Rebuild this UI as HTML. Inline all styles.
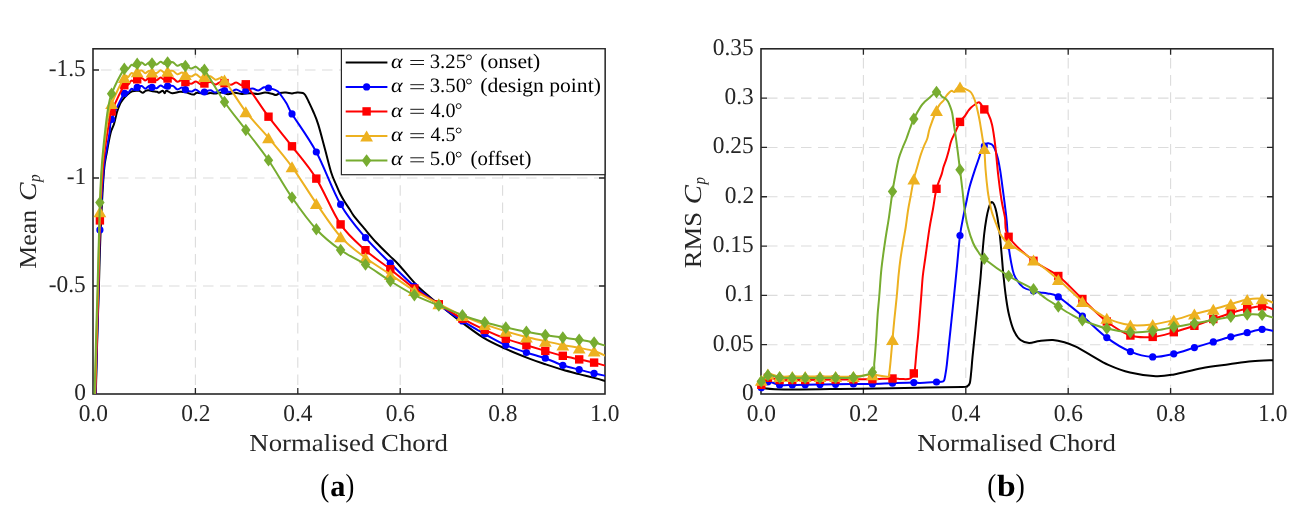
<!DOCTYPE html>
<html><head><meta charset="utf-8"><title>Cp plots</title>
<style>
html,body{margin:0;padding:0;background:#fff;}
body{width:1309px;height:524px;overflow:hidden;position:relative;}
svg{display:block;font-family:"Liberation Serif",serif;position:absolute;left:0;top:0;text-rendering:geometricPrecision;}
svg.main{will-change:transform;}
</style></head><body>
<svg class="main" width="1309" height="524" viewBox="0 0 1309 524">
<defs><clipPath id="cl"><rect x="93" y="48.8" width="512" height="345.2"/></clipPath><clipPath id="cr"><rect x="761" y="48.8" width="512" height="345.2"/></clipPath></defs>
<rect width="1309" height="524" fill="#fff"/>
<g stroke="#dcdcdc" stroke-width="1.1" fill="none"><g stroke-dasharray="10.6 6.6" stroke-dashoffset="1.2"><line x1="195.4" y1="48.8" x2="195.4" y2="394"/><line x1="297.8" y1="48.8" x2="297.8" y2="394"/><line x1="400.2" y1="48.8" x2="400.2" y2="394"/><line x1="502.6" y1="48.8" x2="502.6" y2="394"/></g><g stroke-dasharray="10.5 6.5" stroke-dashoffset="9"><line x1="93" y1="286" x2="605" y2="286"/><line x1="93" y1="178" x2="605" y2="178"/><line x1="93" y1="70" x2="605" y2="70"/></g></g>
<path d="M195.4,394V388M195.4,48.8V54.8M297.8,394V388M297.8,48.8V54.8M400.2,394V388M400.2,48.8V54.8M502.6,394V388M502.6,48.8V54.8M93,286H99M605,286H599M93,178H99M605,178H599M93,70H99M605,70H599" stroke="#262626" stroke-width="1.3" fill="none"/><rect x="93" y="48.8" width="512" height="345.2" fill="none" stroke="#262626" stroke-width="1.6"/>
<path clip-path="url(#cl)" d="M95,402C95.13,400.67 95.43,404.33 95.8,394C96.17,383.67 96.68,358 97.2,340C97.72,322 98.33,304 98.9,286C99.47,268 99.77,251 100.6,232C101.43,213 102.85,185.33 103.9,172C104.95,158.67 105.78,158.5 106.9,152C108.02,145.5 109.42,137.67 110.6,133C111.78,128.33 112.93,127.5 114,124C115.07,120.5 116,115.33 117,112C118,108.67 119.07,106.03 120,104C120.93,101.97 121.43,101.3 122.6,99.8C123.77,98.3 125.4,96.42 127,95C128.6,93.58 130.22,92 132.2,91.3C134.18,90.6 137.15,90.57 138.9,90.8C140.65,91.03 141.6,92.7 142.7,92.7C143.8,92.7 144.55,91.2 145.5,90.8C146.45,90.4 147.23,90.23 148.4,90.3C149.57,90.37 151.07,90.97 152.5,91.2C153.93,91.43 155.93,91.45 157,91.7C158.07,91.95 157.95,92.85 158.9,92.7C159.85,92.55 161.75,90.72 162.7,90.8C163.65,90.88 163.97,93.2 164.6,93.2C165.23,93.2 165.22,90.8 166.5,90.8C167.78,90.8 170.07,93.05 172.3,93.2C174.53,93.35 177.68,91.87 179.9,91.7C182.12,91.53 183.38,91.72 185.6,92.2C187.82,92.68 191.28,94.52 193.2,94.6C195.12,94.68 195.18,92.78 197.1,92.7C199.02,92.62 202.55,94.05 204.7,94.1C206.85,94.15 208.28,93.08 210,93C211.72,92.92 213,93.68 215,93.6C217,93.52 219.83,92.4 222,92.5C224.17,92.6 225.83,94.15 228,94.2C230.17,94.25 232.67,92.83 235,92.8C237.33,92.77 239.5,93.93 242,94C244.5,94.07 247.33,93.2 250,93.2C252.67,93.2 255.5,94.1 258,94C260.5,93.9 262.67,92.63 265,92.6C267.33,92.57 270.17,93.4 272,93.8C273.83,94.2 274.67,95.13 276,95C277.33,94.87 278.33,93.4 280,93C281.67,92.6 284,92.53 286,92.6C288,92.67 290.17,93.43 292,93.4C293.83,93.37 295.18,92.47 297,92.4C298.82,92.33 301.48,92.48 302.9,93C304.32,93.52 304.55,94.08 305.5,95.5C306.45,96.92 307.35,98.92 308.6,101.5C309.85,104.08 311.4,107.18 313,111C314.6,114.82 316.17,117.9 318.2,124.4C320.23,130.9 323.03,141.98 325.2,150C327.37,158.02 329.4,166.77 331.2,172.5C333,178.23 334.53,180.9 336,184.4C337.47,187.9 338.58,190.65 340,193.5C341.42,196.35 342.87,198.83 344.5,201.5C346.13,204.17 348.25,207.12 349.8,209.5C351.35,211.88 351.28,212.52 353.8,215.8C356.32,219.08 361.15,224.75 364.9,229.2C368.65,233.65 372.17,238.05 376.3,242.5C380.43,246.95 385.92,252.15 389.7,255.9C393.48,259.65 394.25,259.85 399,265C403.75,270.15 411.82,280.47 418.2,286.8C424.58,293.13 430.95,297.77 437.3,303C443.65,308.23 448.7,312.47 456.3,318.2C463.9,323.93 474.65,332.28 482.9,337.4C491.15,342.52 497.95,345.32 505.8,348.9C513.65,352.48 523.42,356.35 530,358.9C536.58,361.45 539.83,362.38 545.3,364.2C550.77,366.02 557.15,368.15 562.8,369.8C568.45,371.45 573.98,372.75 579.2,374.1C584.42,375.45 589.72,376.72 594.1,377.9C598.48,379.08 603.6,380.65 605.5,381.2" stroke="#000000" fill="none" stroke-width="2.0" stroke-linejoin="round"/><path clip-path="url(#cl)" d="M94.9,402C95.02,400.67 95.23,404.33 95.6,394C95.97,383.67 96.58,358 97.1,340C97.62,322 98.23,304.35 98.7,286C99.17,267.65 99.07,249.23 99.9,229.9C100.73,210.57 102.58,183.32 103.7,170C104.82,156.68 105.63,156.18 106.6,150C107.57,143.82 108.67,137.98 109.5,132.9C110.33,127.82 109.13,126.08 111.6,119.5C114.07,112.92 121.54,97.83 124.3,93.4C127.06,88.97 126.99,93.67 128.17,92.9C129.35,92.13 130.32,89.3 131.39,88.8C132.47,88.3 133.65,90.13 134.62,89.9C135.59,89.67 136.03,88.04 137.2,87.4C138.37,86.76 140.28,85.86 141.64,86.07C143,86.28 144.11,88.65 145.34,88.64C146.57,88.64 147.93,86.24 149.04,86.02C150.15,85.8 150.73,86.92 152,87.3C153.27,87.67 155.25,88.59 156.68,88.27C158.11,87.95 159.28,85.49 160.58,85.39C161.88,85.3 163.31,87.59 164.48,87.72C165.65,87.85 166.19,86.5 167.6,86.2C169.01,85.9 171.31,85.39 172.94,85.92C174.57,86.45 175.91,89.09 177.39,89.37C178.87,89.65 180.5,87.58 181.84,87.62C183.18,87.66 183.86,88.93 185.4,89.6C186.94,90.27 189.36,91.62 191.1,91.62C192.84,91.62 194.27,89.42 195.85,89.62C197.43,89.82 199.17,92.42 200.6,92.82C202.03,93.22 202.76,92.42 204.4,92C206.04,91.58 208.59,90.21 210.43,90.31C212.27,90.41 213.78,92.69 215.46,92.58C217.13,92.48 218.97,89.97 220.48,89.66C221.99,89.35 222.76,90.31 224.5,90.7C226.24,91.09 228.94,92.22 230.89,92C232.84,91.78 234.44,89.4 236.22,89.4C237.99,89.4 239.94,91.78 241.54,92C243.14,92.22 243.96,91.27 245.8,90.7C247.65,90.13 250.53,88.62 252.61,88.59C254.69,88.56 256.39,90.74 258.29,90.52C260.18,90.29 262.26,87.66 263.96,87.24C265.66,86.82 266.74,87.61 268.5,88C270.26,88.39 272.92,89 274.5,89.6C276.08,90.2 276.88,90.62 278,91.6C279.12,92.58 279.77,93.52 281.2,95.5C282.63,97.48 284.8,100.43 286.6,103.5C288.4,106.57 287.05,105.82 292,113.9C296.95,121.98 308.2,136.92 316.3,152C324.4,167.08 332.4,190.12 340.6,204.4C348.8,218.68 357.22,227.9 365.5,237.7C373.78,247.5 382.15,255.1 390.3,263.2C398.45,271.3 406.32,279.4 414.4,286.3C422.48,293.2 430.8,298.83 438.8,304.6C446.8,310.37 454.75,316 462.4,320.9C470.05,325.8 477.47,329.97 484.7,334C491.93,338.03 498.85,342.02 505.8,345.1C512.75,348.18 519.82,350.32 526.4,352.5C532.98,354.68 539.23,356.07 545.3,358.2C551.37,360.33 557.15,363.4 562.8,365.3C568.45,367.2 573.98,368.25 579.2,369.6C584.42,370.95 589.72,372.37 594.1,373.4C598.48,374.43 603.6,375.4 605.5,375.8" stroke="#0000ff" fill="none" stroke-width="2.0" stroke-linejoin="round"/><circle cx="99.9" cy="229.9" r="3.6" fill="#0000ff"/><circle cx="111.6" cy="119.5" r="3.6" fill="#0000ff"/><circle cx="124.3" cy="93.4" r="3.6" fill="#0000ff"/><circle cx="137.2" cy="87.4" r="3.6" fill="#0000ff"/><circle cx="152" cy="87.3" r="3.6" fill="#0000ff"/><circle cx="167.6" cy="86.2" r="3.6" fill="#0000ff"/><circle cx="185.4" cy="89.6" r="3.6" fill="#0000ff"/><circle cx="204.4" cy="92" r="3.6" fill="#0000ff"/><circle cx="224.5" cy="90.7" r="3.6" fill="#0000ff"/><circle cx="245.8" cy="90.7" r="3.6" fill="#0000ff"/><circle cx="268.5" cy="88" r="3.6" fill="#0000ff"/><circle cx="292" cy="113.9" r="3.6" fill="#0000ff"/><circle cx="316.3" cy="152" r="3.6" fill="#0000ff"/><circle cx="340.6" cy="204.4" r="3.6" fill="#0000ff"/><circle cx="365.5" cy="237.7" r="3.6" fill="#0000ff"/><circle cx="390.3" cy="263.2" r="3.6" fill="#0000ff"/><circle cx="414.4" cy="286.3" r="3.6" fill="#0000ff"/><circle cx="438.8" cy="304.6" r="3.6" fill="#0000ff"/><circle cx="462.4" cy="320.9" r="3.6" fill="#0000ff"/><circle cx="484.7" cy="334" r="3.6" fill="#0000ff"/><circle cx="505.8" cy="345.1" r="3.6" fill="#0000ff"/><circle cx="526.4" cy="352.5" r="3.6" fill="#0000ff"/><circle cx="545.3" cy="358.2" r="3.6" fill="#0000ff"/><circle cx="562.8" cy="365.3" r="3.6" fill="#0000ff"/><circle cx="579.2" cy="369.6" r="3.6" fill="#0000ff"/><circle cx="594.1" cy="373.4" r="3.6" fill="#0000ff"/><path clip-path="url(#cl)" d="M94.6,402C94.72,400.67 94.93,404.33 95.3,394C95.67,383.67 96.28,358 96.8,340C97.32,322 97.88,305.93 98.4,286C98.92,266.07 99.2,239.4 99.9,220.4C100.6,201.4 101.88,182.9 102.6,172C103.32,161.1 103.5,161 104.2,155C104.9,149 105.9,141.83 106.8,136C107.7,130.17 108.8,124.08 109.6,120C110.4,115.92 109.15,117.3 111.6,111.5C114.05,105.7 121.54,89.66 124.3,85.2C127.06,80.74 126.99,85.49 128.17,84.73C129.35,83.97 130.32,81.15 131.39,80.66C132.47,80.16 133.65,82.01 134.62,81.78C135.59,81.55 136.03,79.94 137.2,79.3C138.37,78.66 140.28,77.72 141.64,77.91C143,78.1 144.11,80.46 145.34,80.44C146.57,80.41 147.93,78 149.04,77.76C150.15,77.52 150.73,78.6 152,79C153.27,79.4 155.25,80.41 156.68,80.15C158.11,79.89 159.28,77.47 160.58,77.42C161.88,77.38 163.31,79.72 164.48,79.9C165.65,80.08 166.19,78.78 167.6,78.5C169.01,78.22 171.31,77.71 172.94,78.25C174.57,78.79 175.91,81.43 177.39,81.72C178.87,82.02 180.5,79.95 181.84,80C183.18,80.05 183.86,81.38 185.4,82C186.94,82.62 189.36,83.83 191.1,83.75C192.84,83.67 194.27,81.4 195.85,81.53C197.43,81.65 199.17,84.17 200.6,84.5C202.03,84.83 202.76,83.9 204.4,83.5C206.04,83.1 208.59,81.9 210.43,82.08C212.27,82.26 213.78,84.61 215.46,84.58C217.13,84.55 218.97,82.13 220.48,81.88C221.99,81.63 222.76,82.62 224.5,83.1C226.24,83.58 228.94,84.87 230.89,84.76C232.84,84.65 234.44,82.36 236.22,82.46C237.99,82.56 239.94,85.05 241.54,85.36C243.14,85.67 241.31,79.08 245.8,84.3C250.29,89.52 260.8,106.37 268.5,116.7C276.2,127.03 284.03,135.98 292,146.3C299.97,156.62 308.2,165.58 316.3,178.6C324.4,191.62 332.4,212.47 340.6,224.4C348.8,236.33 357.22,242.73 365.5,250.2C373.78,257.67 382.15,262.82 390.3,269.2C398.45,275.58 406.32,282.65 414.4,288.5C422.48,294.35 430.8,299.27 438.8,304.3C446.8,309.33 454.75,314.43 462.4,318.7C470.05,322.97 477.47,326.57 484.7,329.9C491.93,333.23 498.85,336.15 505.8,338.7C512.75,341.25 519.82,343.17 526.4,345.2C532.98,347.23 539.23,349.13 545.3,350.9C551.37,352.67 557.15,354.38 562.8,355.8C568.45,357.22 573.98,358.27 579.2,359.4C584.42,360.53 589.72,361.53 594.1,362.6C598.48,363.67 603.6,365.27 605.5,365.8" stroke="#ff0000" fill="none" stroke-width="2.0" stroke-linejoin="round"/><rect x="95.7" y="216.2" width="8.4" height="8.4" fill="#ff0000"/><rect x="107.4" y="107.3" width="8.4" height="8.4" fill="#ff0000"/><rect x="120.1" y="81" width="8.4" height="8.4" fill="#ff0000"/><rect x="133" y="75.1" width="8.4" height="8.4" fill="#ff0000"/><rect x="147.8" y="74.8" width="8.4" height="8.4" fill="#ff0000"/><rect x="163.4" y="74.3" width="8.4" height="8.4" fill="#ff0000"/><rect x="181.2" y="77.8" width="8.4" height="8.4" fill="#ff0000"/><rect x="200.2" y="79.3" width="8.4" height="8.4" fill="#ff0000"/><rect x="220.3" y="78.9" width="8.4" height="8.4" fill="#ff0000"/><rect x="241.6" y="80.1" width="8.4" height="8.4" fill="#ff0000"/><rect x="264.3" y="112.5" width="8.4" height="8.4" fill="#ff0000"/><rect x="287.8" y="142.1" width="8.4" height="8.4" fill="#ff0000"/><rect x="312.1" y="174.4" width="8.4" height="8.4" fill="#ff0000"/><rect x="336.4" y="220.2" width="8.4" height="8.4" fill="#ff0000"/><rect x="361.3" y="246" width="8.4" height="8.4" fill="#ff0000"/><rect x="386.1" y="265" width="8.4" height="8.4" fill="#ff0000"/><rect x="410.2" y="284.3" width="8.4" height="8.4" fill="#ff0000"/><rect x="434.6" y="300.1" width="8.4" height="8.4" fill="#ff0000"/><rect x="458.2" y="314.5" width="8.4" height="8.4" fill="#ff0000"/><rect x="480.5" y="325.7" width="8.4" height="8.4" fill="#ff0000"/><rect x="501.6" y="334.5" width="8.4" height="8.4" fill="#ff0000"/><rect x="522.2" y="341" width="8.4" height="8.4" fill="#ff0000"/><rect x="541.1" y="346.7" width="8.4" height="8.4" fill="#ff0000"/><rect x="558.6" y="351.6" width="8.4" height="8.4" fill="#ff0000"/><rect x="575" y="355.2" width="8.4" height="8.4" fill="#ff0000"/><rect x="589.9" y="358.4" width="8.4" height="8.4" fill="#ff0000"/><path clip-path="url(#cl)" d="M94.3,402C94.42,400.67 94.65,404.33 95,394C95.35,383.67 95.9,358 96.4,340C96.9,322 97.42,307.38 98,286C98.58,264.62 99.27,230.7 99.9,211.7C100.53,192.7 101.25,181.45 101.8,172C102.35,162.55 102.57,161.33 103.2,155C103.83,148.67 104.72,140.83 105.6,134C106.48,127.17 107.5,119.08 108.5,114C109.5,108.92 108.97,109.57 111.6,103.5C114.23,97.43 121.54,81.99 124.3,77.6C127.06,73.2 126.99,77.89 128.17,77.13C129.35,76.37 130.32,73.55 131.39,73.06C132.47,72.56 133.65,74.41 134.62,74.18C135.59,73.95 136.03,72.31 137.2,71.7C138.37,71.09 140.28,70.25 141.64,70.49C143,70.73 144.11,73.14 145.34,73.16C146.57,73.19 147.93,70.83 149.04,70.64C150.15,70.45 150.73,71.6 152,72C153.27,72.4 155.25,73.35 156.68,73.06C158.11,72.77 159.28,70.33 160.58,70.26C161.88,70.19 163.31,72.5 164.48,72.66C165.65,72.82 166.19,71.5 167.6,71.2C169.01,70.91 171.31,70.37 172.94,70.89C174.57,71.41 175.91,74.04 177.39,74.31C178.87,74.59 180.5,72.51 181.84,72.54C183.18,72.57 183.86,73.85 185.4,74.5C186.94,75.15 189.36,76.45 191.1,76.43C192.84,76.41 194.27,74.18 195.85,74.36C197.43,74.53 199.17,77.11 200.6,77.48C202.03,77.85 202.76,76.79 204.4,76.6C206.04,76.41 208.59,75.79 210.43,76.32C212.27,76.85 213.78,79.49 215.46,79.77C217.13,80.05 218.97,77.98 220.48,78.02C221.99,78.06 220.28,74.39 224.5,80C228.72,85.61 238.47,102.08 245.8,111.7C253.13,121.32 260.8,128.52 268.5,137.7C276.2,146.88 284.03,155.85 292,166.8C299.97,177.75 308.2,191.73 316.3,203.4C324.4,215.07 332.4,227.73 340.6,236.8C348.8,245.87 357.22,251.53 365.5,257.8C373.78,264.07 382.15,268.93 390.3,274.4C398.45,279.87 406.32,285.7 414.4,290.6C422.48,295.5 430.8,299.65 438.8,303.8C446.8,307.95 454.75,312.07 462.4,315.5C470.05,318.93 477.47,321.77 484.7,324.4C491.93,327.03 498.85,329.2 505.8,331.3C512.75,333.4 519.82,335.35 526.4,337C532.98,338.65 539.23,339.87 545.3,341.2C551.37,342.53 557.15,343.88 562.8,345C568.45,346.12 573.98,346.9 579.2,347.9C584.42,348.9 589.72,349.68 594.1,351C598.48,352.32 603.6,355 605.5,355.8" stroke="#edb120" fill="none" stroke-width="2.0" stroke-linejoin="round"/><path d="M99.9,206.2 L106.3,217.2 L93.5,217.2 Z" fill="#edb120"/><path d="M111.6,98 L118,109 L105.2,109 Z" fill="#edb120"/><path d="M124.3,72.1 L130.7,83.1 L117.9,83.1 Z" fill="#edb120"/><path d="M137.2,66.2 L143.6,77.2 L130.8,77.2 Z" fill="#edb120"/><path d="M152,66.5 L158.4,77.5 L145.6,77.5 Z" fill="#edb120"/><path d="M167.6,65.7 L174,76.7 L161.2,76.7 Z" fill="#edb120"/><path d="M185.4,69 L191.8,80 L179,80 Z" fill="#edb120"/><path d="M204.4,71.1 L210.8,82.1 L198,82.1 Z" fill="#edb120"/><path d="M224.5,74.5 L230.9,85.5 L218.1,85.5 Z" fill="#edb120"/><path d="M245.8,106.2 L252.2,117.2 L239.4,117.2 Z" fill="#edb120"/><path d="M268.5,132.2 L274.9,143.2 L262.1,143.2 Z" fill="#edb120"/><path d="M292,161.3 L298.4,172.3 L285.6,172.3 Z" fill="#edb120"/><path d="M316.3,197.9 L322.7,208.9 L309.9,208.9 Z" fill="#edb120"/><path d="M340.6,231.3 L347,242.3 L334.2,242.3 Z" fill="#edb120"/><path d="M365.5,252.3 L371.9,263.3 L359.1,263.3 Z" fill="#edb120"/><path d="M390.3,268.9 L396.7,279.9 L383.9,279.9 Z" fill="#edb120"/><path d="M414.4,285.1 L420.8,296.1 L408,296.1 Z" fill="#edb120"/><path d="M438.8,298.3 L445.2,309.3 L432.4,309.3 Z" fill="#edb120"/><path d="M462.4,310 L468.8,321 L456,321 Z" fill="#edb120"/><path d="M484.7,318.9 L491.1,329.9 L478.3,329.9 Z" fill="#edb120"/><path d="M505.8,325.8 L512.2,336.8 L499.4,336.8 Z" fill="#edb120"/><path d="M526.4,331.5 L532.8,342.5 L520,342.5 Z" fill="#edb120"/><path d="M545.3,335.7 L551.7,346.7 L538.9,346.7 Z" fill="#edb120"/><path d="M562.8,339.5 L569.2,350.5 L556.4,350.5 Z" fill="#edb120"/><path d="M579.2,342.4 L585.6,353.4 L572.8,353.4 Z" fill="#edb120"/><path d="M594.1,345.5 L600.5,356.5 L587.7,356.5 Z" fill="#edb120"/><path clip-path="url(#cl)" d="M94,402C94.1,400.67 94.27,404.33 94.6,394C94.93,383.67 95.5,358 96,340C96.5,322 96.95,308.9 97.6,286C98.25,263.1 99.25,221.93 99.9,202.6C100.55,183.27 101.05,177.8 101.5,170C101.95,162.2 102.03,161.98 102.6,155.8C103.17,149.62 104.03,140.53 104.9,132.9C105.77,125.27 106.68,116.52 107.8,110C108.92,103.48 108.85,100.65 111.6,93.8C114.35,86.95 121.54,73.08 124.3,68.9C127.06,64.72 126.99,69.38 128.17,68.7C129.35,68.03 130.32,65.27 131.39,64.85C132.47,64.43 133.65,66.36 134.62,66.2C135.59,66.04 136.03,64.52 137.2,63.9C138.37,63.28 140.28,62.32 141.64,62.51C143,62.7 144.11,65.06 145.34,65.03C146.57,65.01 147.93,62.6 149.04,62.36C150.15,62.12 150.73,63.23 152,63.6C153.27,63.97 155.25,64.91 156.68,64.6C158.11,64.29 159.28,61.83 160.58,61.75C161.88,61.67 163.31,63.96 164.48,64.1C165.65,64.24 166.19,62.9 167.6,62.6C169.01,62.3 171.31,61.79 172.94,62.32C174.57,62.85 175.91,65.49 177.39,65.77C178.87,66.05 180.5,63.98 181.84,64.02C183.18,64.06 183.86,65.26 185.4,66C186.94,66.74 189.36,68.33 191.1,68.47C192.84,68.61 194.27,66.52 195.85,66.85C197.43,67.17 199.17,69.91 200.6,70.42C202.03,70.93 200.42,64.64 204.4,69.9C208.38,75.16 217.6,91.98 224.5,102C231.4,112.02 238.47,120.3 245.8,130C253.13,139.7 260.8,148.95 268.5,160.2C276.2,171.45 284.03,186 292,197.5C299.97,209 308.2,220.45 316.3,229.2C324.4,237.95 332.4,244.12 340.6,250C348.8,255.88 357.22,259.33 365.5,264.5C373.78,269.67 382.15,275.9 390.3,281C398.45,286.1 406.32,291.02 414.4,295.1C422.48,299.18 430.8,302.15 438.8,305.5C446.8,308.85 454.75,312.4 462.4,315.2C470.05,318 477.47,320.23 484.7,322.3C491.93,324.37 498.85,326.02 505.8,327.6C512.75,329.18 519.82,330.55 526.4,331.8C532.98,333.05 539.23,334.13 545.3,335.1C551.37,336.07 557.15,336.82 562.8,337.6C568.45,338.38 573.98,338.97 579.2,339.8C584.42,340.63 589.72,341.62 594.1,342.6C598.48,343.58 603.6,345.18 605.5,345.7" stroke="#77ac30" fill="none" stroke-width="2.0" stroke-linejoin="round"/><path d="M99.9,196.3 L104.6,202.6 L99.9,208.9 L95.2,202.6 Z" fill="#77ac30"/><path d="M111.6,87.5 L116.3,93.8 L111.6,100.1 L106.9,93.8 Z" fill="#77ac30"/><path d="M124.3,62.6 L129,68.9 L124.3,75.2 L119.6,68.9 Z" fill="#77ac30"/><path d="M137.2,57.6 L141.9,63.9 L137.2,70.2 L132.5,63.9 Z" fill="#77ac30"/><path d="M152,57.3 L156.7,63.6 L152,69.9 L147.3,63.6 Z" fill="#77ac30"/><path d="M167.6,56.3 L172.3,62.6 L167.6,68.9 L162.9,62.6 Z" fill="#77ac30"/><path d="M185.4,59.7 L190.1,66 L185.4,72.3 L180.7,66 Z" fill="#77ac30"/><path d="M204.4,63.6 L209.1,69.9 L204.4,76.2 L199.7,69.9 Z" fill="#77ac30"/><path d="M224.5,95.7 L229.2,102 L224.5,108.3 L219.8,102 Z" fill="#77ac30"/><path d="M245.8,123.7 L250.5,130 L245.8,136.3 L241.1,130 Z" fill="#77ac30"/><path d="M268.5,153.9 L273.2,160.2 L268.5,166.5 L263.8,160.2 Z" fill="#77ac30"/><path d="M292,191.2 L296.7,197.5 L292,203.8 L287.3,197.5 Z" fill="#77ac30"/><path d="M316.3,222.9 L321,229.2 L316.3,235.5 L311.6,229.2 Z" fill="#77ac30"/><path d="M340.6,243.7 L345.3,250 L340.6,256.3 L335.9,250 Z" fill="#77ac30"/><path d="M365.5,258.2 L370.2,264.5 L365.5,270.8 L360.8,264.5 Z" fill="#77ac30"/><path d="M390.3,274.7 L395,281 L390.3,287.3 L385.6,281 Z" fill="#77ac30"/><path d="M414.4,288.8 L419.1,295.1 L414.4,301.4 L409.7,295.1 Z" fill="#77ac30"/><path d="M438.8,299.2 L443.5,305.5 L438.8,311.8 L434.1,305.5 Z" fill="#77ac30"/><path d="M462.4,308.9 L467.1,315.2 L462.4,321.5 L457.7,315.2 Z" fill="#77ac30"/><path d="M484.7,316 L489.4,322.3 L484.7,328.6 L480,322.3 Z" fill="#77ac30"/><path d="M505.8,321.3 L510.5,327.6 L505.8,333.9 L501.1,327.6 Z" fill="#77ac30"/><path d="M526.4,325.5 L531.1,331.8 L526.4,338.1 L521.7,331.8 Z" fill="#77ac30"/><path d="M545.3,328.8 L550,335.1 L545.3,341.4 L540.6,335.1 Z" fill="#77ac30"/><path d="M562.8,331.3 L567.5,337.6 L562.8,343.9 L558.1,337.6 Z" fill="#77ac30"/><path d="M579.2,333.5 L583.9,339.8 L579.2,346.1 L574.5,339.8 Z" fill="#77ac30"/><path d="M594.1,336.3 L598.8,342.6 L594.1,348.9 L589.4,342.6 Z" fill="#77ac30"/>
<g stroke="#dcdcdc" stroke-width="1.1" fill="none"><g stroke-dasharray="10.6 6.6" stroke-dashoffset="8.1"><line x1="863.4" y1="48.8" x2="863.4" y2="394"/><line x1="965.8" y1="48.8" x2="965.8" y2="394"/><line x1="1068.2" y1="48.8" x2="1068.2" y2="394"/><line x1="1170.6" y1="48.8" x2="1170.6" y2="394"/></g><g stroke-dasharray="10.5 6.5" stroke-dashoffset="11"><line x1="761" y1="344.69" x2="1273" y2="344.69"/><line x1="761" y1="295.37" x2="1273" y2="295.37"/><line x1="761" y1="246.06" x2="1273" y2="246.06"/><line x1="761" y1="196.74" x2="1273" y2="196.74"/><line x1="761" y1="147.43" x2="1273" y2="147.43"/><line x1="761" y1="98.11" x2="1273" y2="98.11"/></g></g>
<path d="M863.4,394V388M863.4,48.8V54.8M965.8,394V388M965.8,48.8V54.8M1068.2,394V388M1068.2,48.8V54.8M1170.6,394V388M1170.6,48.8V54.8M761,344.69H767M1273,344.69H1267M761,295.37H767M1273,295.37H1267M761,246.06H767M1273,246.06H1267M761,196.74H767M1273,196.74H1267M761,147.43H767M1273,147.43H1267M761,98.11H767M1273,98.11H1267" stroke="#262626" stroke-width="1.3" fill="none"/><rect x="761" y="48.8" width="512" height="345.2" fill="none" stroke="#262626" stroke-width="1.6"/>
<path clip-path="url(#cr)" d="M761.3,388.1C763.58,388.3 768.55,389.08 775,389.3C781.45,389.52 790.83,389.45 800,389.4C809.17,389.35 820,389.12 830,389C840,388.88 845.47,388.92 860,388.7C874.53,388.48 900.2,388 917.2,387.7C934.2,387.4 953.73,387.12 962,386.9C970.27,386.68 965.52,386.98 966.8,386.4C968.08,385.82 968.97,385.8 969.7,383.4C970.43,381 970.73,376.37 971.2,372C971.67,367.63 971.82,364.2 972.5,357.2C973.18,350.2 974.33,339.53 975.3,330C976.27,320.47 977.43,308.67 978.3,300C979.17,291.33 979.83,285.5 980.5,278C981.17,270.5 981.68,262.33 982.3,255C982.92,247.67 983.52,240.08 984.2,234C984.88,227.92 985.67,222.75 986.4,218.5C987.13,214.25 987.8,211.2 988.6,208.5C989.4,205.8 990.38,203.13 991.2,202.3C992.02,201.47 992.78,202.47 993.5,203.5C994.22,204.53 994.83,206.08 995.5,208.5C996.17,210.92 996.8,213.75 997.5,218C998.2,222.25 999.02,228 999.7,234C1000.38,240 1000.95,246.83 1001.6,254C1002.25,261.17 1002.83,269.5 1003.6,277C1004.37,284.5 1005.28,292.62 1006.2,299C1007.12,305.38 1007.83,310.05 1009.1,315.3C1010.37,320.55 1011.9,326.38 1013.8,330.5C1015.7,334.62 1017.95,337.93 1020.5,340C1023.05,342.07 1025.92,342.73 1029.1,342.9C1032.28,343.07 1035.63,341.48 1039.6,341C1043.57,340.52 1048.77,339.78 1052.9,340C1057.03,340.22 1060.58,341.18 1064.4,342.3C1068.22,343.42 1071.35,344.53 1075.8,346.7C1080.25,348.87 1085.68,352.28 1091.1,355.3C1096.52,358.32 1101.82,361.93 1108.3,364.8C1114.78,367.67 1122.08,370.6 1130,372.5C1137.92,374.4 1148.45,375.88 1155.8,376.2C1163.15,376.52 1166.47,375.73 1174.1,374.4C1181.73,373.07 1192.43,369.88 1201.6,368.2C1210.77,366.52 1220.7,365.45 1229.1,364.3C1237.5,363.15 1244.6,361.98 1252,361.3C1259.4,360.62 1269.92,360.38 1273.5,360.2" stroke="#000000" fill="none" stroke-width="2.0" stroke-linejoin="round"/><path clip-path="url(#cr)" d="M761.3,387.7C762.4,386.72 764.85,382.25 767.9,381.8C770.95,381.35 775.53,384.47 779.6,385C783.67,385.53 788.03,385.03 792.3,385C796.57,384.97 800.58,384.87 805.2,384.8C809.82,384.73 814.93,384.68 820,384.6C825.07,384.52 830.03,384.4 835.6,384.3C841.17,384.2 847.27,384.07 853.4,384C859.53,383.93 865.88,384.03 872.4,383.9C878.92,383.77 885.6,383.42 892.5,383.2C899.4,382.98 909.22,382.63 913.8,382.6C918.38,382.57 916.22,383.1 920,383C923.78,382.9 933,382.2 936.5,382C940,381.8 939.77,382 941,381.8C942.23,381.6 943.18,381.93 943.9,380.8C944.62,379.67 944.82,377.67 945.3,375C945.78,372.33 946.08,370.95 946.8,364.8C947.52,358.65 948.85,345.23 949.6,338.1C950.35,330.97 950.67,328.02 951.3,322C951.93,315.98 952.48,310.97 953.4,302C954.32,293.03 955.7,279.28 956.8,268.2C957.9,257.12 958.85,244.42 960,235.5C961.15,226.58 962.57,220.62 963.7,214.7C964.83,208.78 965.83,204.58 966.8,200C967.77,195.42 968.1,192.38 969.5,187.2C970.9,182.02 973.62,173.77 975.2,168.9C976.78,164.03 977.87,161.43 979,158C980.13,154.57 981.12,150.3 982,148.3C982.88,146.3 983.88,146.3 984.3,146C984.72,145.7 984.12,146.92 984.5,146.5C984.88,146.08 985.93,144.05 986.6,143.5C987.27,142.95 987.9,143.15 988.5,143.2C989.1,143.25 989.68,143.63 990.2,143.8C990.72,143.97 991.03,143.75 991.6,144.2C992.17,144.65 992.9,145.28 993.6,146.5C994.3,147.72 995.07,149.42 995.8,151.5C996.53,153.58 997.25,155.72 998,159C998.75,162.28 999.53,166.37 1000.3,171.2C1001.07,176.03 1001.83,182.28 1002.6,188C1003.37,193.72 1004.2,199.83 1004.9,205.5C1005.6,211.17 1006.18,215.25 1006.8,222C1007.42,228.75 1007.62,237.98 1008.6,246C1009.58,254.02 1011.47,264.68 1012.7,270.1C1013.93,275.52 1014.22,275.6 1016,278.5C1017.78,281.4 1020.48,285.42 1023.4,287.5C1026.32,289.58 1030.73,290.18 1033.5,291C1036.27,291.82 1037.67,291.98 1040,292.4C1042.33,292.82 1044.45,292.75 1047.5,293.5C1050.55,294.25 1052.48,293.15 1058.3,296.9C1064.12,300.65 1074.32,309.22 1082.4,316C1090.48,322.78 1098.8,331.67 1106.8,337.6C1114.8,343.53 1122.75,348.38 1130.4,351.6C1138.05,354.82 1145.47,356.53 1152.7,356.9C1159.93,357.27 1166.85,355.35 1173.8,353.8C1180.75,352.25 1187.82,349.58 1194.4,347.6C1200.98,345.62 1207.23,343.7 1213.3,341.9C1219.37,340.1 1225.15,338.33 1230.8,336.8C1236.45,335.27 1241.98,333.95 1247.2,332.7C1252.42,331.45 1257.72,329.6 1262.1,329.3C1266.48,329 1271.6,330.63 1273.5,330.9" stroke="#0000ff" fill="none" stroke-width="2.0" stroke-linejoin="round"/><circle cx="761.3" cy="387.7" r="3.6" fill="#0000ff"/><circle cx="767.9" cy="381.8" r="3.6" fill="#0000ff"/><circle cx="779.6" cy="385" r="3.6" fill="#0000ff"/><circle cx="792.3" cy="385" r="3.6" fill="#0000ff"/><circle cx="805.2" cy="384.8" r="3.6" fill="#0000ff"/><circle cx="820" cy="384.6" r="3.6" fill="#0000ff"/><circle cx="835.6" cy="384.3" r="3.6" fill="#0000ff"/><circle cx="853.4" cy="384" r="3.6" fill="#0000ff"/><circle cx="872.4" cy="383.9" r="3.6" fill="#0000ff"/><circle cx="892.5" cy="383.2" r="3.6" fill="#0000ff"/><circle cx="913.8" cy="382.6" r="3.6" fill="#0000ff"/><circle cx="936.5" cy="382" r="3.6" fill="#0000ff"/><circle cx="960" cy="235.5" r="3.6" fill="#0000ff"/><circle cx="984.3" cy="146" r="3.6" fill="#0000ff"/><circle cx="1008.6" cy="246" r="3.6" fill="#0000ff"/><circle cx="1033.5" cy="291" r="3.6" fill="#0000ff"/><circle cx="1058.3" cy="296.9" r="3.6" fill="#0000ff"/><circle cx="1082.4" cy="316" r="3.6" fill="#0000ff"/><circle cx="1106.8" cy="337.6" r="3.6" fill="#0000ff"/><circle cx="1130.4" cy="351.6" r="3.6" fill="#0000ff"/><circle cx="1152.7" cy="356.9" r="3.6" fill="#0000ff"/><circle cx="1173.8" cy="353.8" r="3.6" fill="#0000ff"/><circle cx="1194.4" cy="347.6" r="3.6" fill="#0000ff"/><circle cx="1213.3" cy="341.9" r="3.6" fill="#0000ff"/><circle cx="1230.8" cy="336.8" r="3.6" fill="#0000ff"/><circle cx="1247.2" cy="332.7" r="3.6" fill="#0000ff"/><circle cx="1262.1" cy="329.3" r="3.6" fill="#0000ff"/><path clip-path="url(#cr)" d="M761.3,384.8C762.4,383.63 764.85,378.6 767.9,377.8C770.95,377 775.53,379.63 779.6,380C783.67,380.37 788.03,380 792.3,380C796.57,380 800.58,380.03 805.2,380C809.82,379.97 814.93,379.87 820,379.8C825.07,379.73 830.03,379.67 835.6,379.6C841.17,379.53 847.27,379.47 853.4,379.4C859.53,379.33 865.88,379.35 872.4,379.2C878.92,379.05 887.73,378.53 892.5,378.5C897.27,378.47 898.08,378.98 901,379C903.92,379.02 907.87,379.53 910,378.6C912.13,377.67 913,374.83 913.8,373.4C914.6,371.97 914.5,371.9 914.8,370C915.1,368.1 915.27,365.67 915.6,362C915.93,358.33 916.37,352.62 916.8,348C917.23,343.38 917.48,342.63 918.2,334.3C918.92,325.97 920.33,307.72 921.1,298C921.87,288.28 922.1,282.67 922.8,276C923.5,269.33 924.18,265.98 925.3,258C926.42,250.02 928.22,236.27 929.5,228.1C930.78,219.93 931.83,215.55 933,209C934.17,202.45 935.07,194.57 936.5,188.8C937.93,183.03 940.43,178.03 941.6,174.4C942.77,170.77 942.72,169.55 943.5,167C944.28,164.45 945.4,161.93 946.3,159.1C947.2,156.27 948.08,153.02 948.9,150C949.72,146.98 950.05,144.15 951.2,141C952.35,137.85 954.33,134.28 955.8,131.1C957.27,127.92 958.47,124.45 960,121.9C961.53,119.35 963.58,117.7 965,115.8C966.42,113.9 967.48,111.9 968.5,110.5C969.52,109.1 970.02,108.4 971.1,107.4C972.18,106.4 973.6,105.32 975,104.5C976.4,103.68 977.95,101.68 979.5,102.5C981.05,103.32 982.83,107.48 984.3,109.4C985.77,111.32 987,111.4 988.3,114C989.6,116.6 990.95,119.78 992.1,125C993.25,130.22 994.18,136.97 995.2,145.3C996.22,153.63 997.15,165.88 998.2,175C999.25,184.12 1000.38,193 1001.5,200C1002.62,207 1003.72,210.87 1004.9,217C1006.08,223.13 1003.83,229.5 1008.6,236.8C1013.37,244.1 1025.22,254.27 1033.5,260.8C1041.78,267.33 1050.15,269.63 1058.3,276C1066.45,282.37 1074.32,291.42 1082.4,299C1090.48,306.58 1098.8,315.42 1106.8,321.5C1114.8,327.58 1122.75,332.93 1130.4,335.5C1138.05,338.07 1145.47,337.45 1152.7,336.9C1159.93,336.35 1166.85,334.05 1173.8,332.2C1180.75,330.35 1187.82,328 1194.4,325.8C1200.98,323.6 1207.23,321.1 1213.3,319C1219.37,316.9 1225.15,314.93 1230.8,313.2C1236.45,311.47 1241.98,309.75 1247.2,308.6C1252.42,307.45 1257.72,306.18 1262.1,306.3C1266.48,306.42 1271.6,308.8 1273.5,309.3" stroke="#ff0000" fill="none" stroke-width="2.0" stroke-linejoin="round"/><rect x="757.1" y="380.6" width="8.4" height="8.4" fill="#ff0000"/><rect x="763.7" y="373.6" width="8.4" height="8.4" fill="#ff0000"/><rect x="775.4" y="375.8" width="8.4" height="8.4" fill="#ff0000"/><rect x="788.1" y="375.8" width="8.4" height="8.4" fill="#ff0000"/><rect x="801" y="375.8" width="8.4" height="8.4" fill="#ff0000"/><rect x="815.8" y="375.6" width="8.4" height="8.4" fill="#ff0000"/><rect x="831.4" y="375.4" width="8.4" height="8.4" fill="#ff0000"/><rect x="849.2" y="375.2" width="8.4" height="8.4" fill="#ff0000"/><rect x="868.2" y="375" width="8.4" height="8.4" fill="#ff0000"/><rect x="888.3" y="374.3" width="8.4" height="8.4" fill="#ff0000"/><rect x="909.6" y="369.2" width="8.4" height="8.4" fill="#ff0000"/><rect x="932.3" y="184.6" width="8.4" height="8.4" fill="#ff0000"/><rect x="955.8" y="117.7" width="8.4" height="8.4" fill="#ff0000"/><rect x="980.1" y="105.2" width="8.4" height="8.4" fill="#ff0000"/><rect x="1004.4" y="232.6" width="8.4" height="8.4" fill="#ff0000"/><rect x="1029.3" y="256.6" width="8.4" height="8.4" fill="#ff0000"/><rect x="1054.1" y="271.8" width="8.4" height="8.4" fill="#ff0000"/><rect x="1078.2" y="294.8" width="8.4" height="8.4" fill="#ff0000"/><rect x="1102.6" y="317.3" width="8.4" height="8.4" fill="#ff0000"/><rect x="1126.2" y="331.3" width="8.4" height="8.4" fill="#ff0000"/><rect x="1148.5" y="332.7" width="8.4" height="8.4" fill="#ff0000"/><rect x="1169.6" y="328" width="8.4" height="8.4" fill="#ff0000"/><rect x="1190.2" y="321.6" width="8.4" height="8.4" fill="#ff0000"/><rect x="1209.1" y="314.8" width="8.4" height="8.4" fill="#ff0000"/><rect x="1226.6" y="309" width="8.4" height="8.4" fill="#ff0000"/><rect x="1243" y="304.4" width="8.4" height="8.4" fill="#ff0000"/><rect x="1257.9" y="302.1" width="8.4" height="8.4" fill="#ff0000"/><path clip-path="url(#cr)" d="M761.3,380.2C762.4,379.17 764.85,374.62 767.9,374C770.95,373.38 775.53,376.08 779.6,376.5C783.67,376.92 788.03,376.48 792.3,376.5C796.57,376.52 800.58,376.58 805.2,376.6C809.82,376.62 814.93,376.6 820,376.6C825.07,376.6 830.03,376.6 835.6,376.6C841.17,376.6 847.27,376.9 853.4,376.6C859.53,376.3 866.67,374.77 872.4,374.8C878.13,374.83 885,377.02 887.8,376.8C890.6,376.58 888.75,375.97 889.2,373.5C889.65,371.03 889.95,367.67 890.5,362C891.05,356.33 891.87,346.5 892.5,339.5C893.13,332.5 893.6,327.12 894.3,320C895,312.88 895.98,304.3 896.7,296.8C897.42,289.3 897.97,281.37 898.6,275C899.23,268.63 899.68,264.43 900.5,258.6C901.32,252.77 902.65,245.1 903.5,240C904.35,234.9 904.83,233 905.6,228C906.37,223 907.28,215.17 908.1,210C908.92,204.83 909.55,202.15 910.5,197C911.45,191.85 912.75,183.83 913.8,179.1C914.85,174.37 915.67,172.57 916.8,168.6C917.93,164.63 919.4,159.07 920.6,155.3C921.8,151.53 922.88,148.8 924,146C925.12,143.2 926.33,141.5 927.3,138.5C928.27,135.5 928.27,132.67 929.8,128C931.33,123.33 934.78,114.5 936.5,110.5C938.22,106.5 938.92,105.67 940.1,104C941.28,102.33 942.58,101.83 943.6,100.5C944.62,99.17 945.25,97.33 946.2,96C947.15,94.67 948.37,93.37 949.3,92.5C950.23,91.63 950.97,90.88 951.8,90.8C952.63,90.72 953.52,92.3 954.3,92C955.08,91.7 955.55,89.82 956.5,89C957.45,88.18 958.33,87 960,87.1C961.67,87.2 964.65,88.7 966.5,89.6C968.35,90.5 969.7,90.68 971.1,92.5C972.5,94.32 973.63,96.62 974.9,100.5C976.17,104.38 977.65,110.88 978.7,115.8C979.75,120.72 980.52,125.97 981.2,130C981.88,134.03 982.28,136.92 982.8,140C983.32,143.08 983.83,143.5 984.3,148.5C984.77,153.5 985.02,162.83 985.6,170C986.18,177.17 987.07,185.83 987.8,191.5C988.53,197.17 989.3,200.5 990,204C990.7,207.5 991,209.25 992,212.5C993,215.75 994.67,220 996,223.5C997.33,227 998.63,230.83 1000,233.5C1001.37,236.17 1002.77,237.85 1004.2,239.5C1005.63,241.15 1003.72,239.98 1008.6,243.4C1013.48,246.82 1025.22,253.98 1033.5,260C1041.78,266.02 1050.15,272.6 1058.3,279.5C1066.45,286.4 1074.32,294.95 1082.4,301.4C1090.48,307.85 1098.8,314.25 1106.8,318.2C1114.8,322.15 1122.75,324.07 1130.4,325.1C1138.05,326.13 1145.47,325.23 1152.7,324.4C1159.93,323.57 1166.85,321.85 1173.8,320.1C1180.75,318.35 1187.82,315.7 1194.4,313.9C1200.98,312.1 1207.23,310.93 1213.3,309.3C1219.37,307.67 1225.15,305.73 1230.8,304.1C1236.45,302.47 1241.98,300.38 1247.2,299.5C1252.42,298.62 1257.72,298.23 1262.1,298.8C1266.48,299.37 1271.6,302.22 1273.5,302.9" stroke="#edb120" fill="none" stroke-width="2.0" stroke-linejoin="round"/><path d="M761.3,374.7 L767.7,385.7 L754.9,385.7 Z" fill="#edb120"/><path d="M767.9,368.5 L774.3,379.5 L761.5,379.5 Z" fill="#edb120"/><path d="M779.6,371 L786,382 L773.2,382 Z" fill="#edb120"/><path d="M792.3,371 L798.7,382 L785.9,382 Z" fill="#edb120"/><path d="M805.2,371.1 L811.6,382.1 L798.8,382.1 Z" fill="#edb120"/><path d="M820,371.1 L826.4,382.1 L813.6,382.1 Z" fill="#edb120"/><path d="M835.6,371.1 L842,382.1 L829.2,382.1 Z" fill="#edb120"/><path d="M853.4,371.1 L859.8,382.1 L847,382.1 Z" fill="#edb120"/><path d="M872.4,369.3 L878.8,380.3 L866,380.3 Z" fill="#edb120"/><path d="M892.5,334 L898.9,345 L886.1,345 Z" fill="#edb120"/><path d="M913.8,173.6 L920.2,184.6 L907.4,184.6 Z" fill="#edb120"/><path d="M936.5,105 L942.9,116 L930.1,116 Z" fill="#edb120"/><path d="M960,81.6 L966.4,92.6 L953.6,92.6 Z" fill="#edb120"/><path d="M984.3,143 L990.7,154 L977.9,154 Z" fill="#edb120"/><path d="M1008.6,237.9 L1015,248.9 L1002.2,248.9 Z" fill="#edb120"/><path d="M1033.5,254.5 L1039.9,265.5 L1027.1,265.5 Z" fill="#edb120"/><path d="M1058.3,274 L1064.7,285 L1051.9,285 Z" fill="#edb120"/><path d="M1082.4,295.9 L1088.8,306.9 L1076,306.9 Z" fill="#edb120"/><path d="M1106.8,312.7 L1113.2,323.7 L1100.4,323.7 Z" fill="#edb120"/><path d="M1130.4,319.6 L1136.8,330.6 L1124,330.6 Z" fill="#edb120"/><path d="M1152.7,318.9 L1159.1,329.9 L1146.3,329.9 Z" fill="#edb120"/><path d="M1173.8,314.6 L1180.2,325.6 L1167.4,325.6 Z" fill="#edb120"/><path d="M1194.4,308.4 L1200.8,319.4 L1188,319.4 Z" fill="#edb120"/><path d="M1213.3,303.8 L1219.7,314.8 L1206.9,314.8 Z" fill="#edb120"/><path d="M1230.8,298.6 L1237.2,309.6 L1224.4,309.6 Z" fill="#edb120"/><path d="M1247.2,294 L1253.6,305 L1240.8,305 Z" fill="#edb120"/><path d="M1262.1,293.3 L1268.5,304.3 L1255.7,304.3 Z" fill="#edb120"/><path clip-path="url(#cr)" d="M761.3,381.4C762.4,380.37 764.85,375.85 767.9,375.2C770.95,374.55 775.53,377.03 779.6,377.5C783.67,377.97 788.03,377.92 792.3,378C796.57,378.08 800.58,378 805.2,378C809.82,378 814.93,378.03 820,378C825.07,377.97 830.03,377.87 835.6,377.8C841.17,377.73 847.27,378.53 853.4,377.6C859.53,376.67 868.92,374.65 872.4,372.2C875.88,369.75 873.67,368.58 874.3,362.9C874.93,357.22 875.65,346.08 876.2,338.1C876.75,330.12 877.1,321.85 877.6,315C878.1,308.15 878.55,304.8 879.2,297C879.85,289.2 880.48,277.7 881.5,268.2C882.52,258.7 884.03,248.65 885.3,240C886.57,231.35 887.9,224.38 889.1,216.3C890.3,208.22 891.55,197.85 892.5,191.5C893.45,185.15 893.78,183.6 894.8,178.2C895.82,172.8 897.32,164.13 898.6,159.1C899.88,154.07 901.22,151.35 902.5,148C903.78,144.65 905.05,142.25 906.3,139C907.55,135.75 908.75,131.85 910,128.5C911.25,125.15 912.02,122.55 913.8,118.9C915.58,115.25 918.83,109.5 920.7,106.6C922.57,103.7 923.48,103.02 925,101.5C926.52,99.98 928.47,98.67 929.8,97.5C931.13,96.33 931.88,95.4 933,94.5C934.12,93.6 935.42,92.27 936.5,92.1C937.58,91.93 938.57,92.73 939.5,93.5C940.43,94.27 941.17,95.92 942.1,96.7C943.03,97.48 944.12,97.4 945.1,98.2C946.08,99 947.1,99.97 948,101.5C948.9,103.03 949.8,105.48 950.5,107.4C951.2,109.32 951.65,110.23 952.2,113C952.75,115.77 953.2,119.97 953.8,124C954.4,128.03 955.13,132.53 955.8,137.2C956.47,141.87 957.1,146.57 957.8,152C958.5,157.43 959.2,163.22 960,169.8C960.8,176.38 961.82,184.73 962.6,191.5C963.38,198.27 963.82,204.45 964.7,210.4C965.58,216.35 966.5,221.77 967.9,227.2C969.3,232.63 971.42,238.95 973.1,243C974.78,247.05 976.13,248.87 978,251.5C979.87,254.13 979.2,254.72 984.3,258.8C989.4,262.88 1000.4,270.9 1008.6,276C1016.8,281.1 1027.3,285.65 1033.5,289.4C1039.7,293.15 1041.67,295.65 1045.8,298.5C1049.93,301.35 1054.22,303.92 1058.3,306.5C1062.38,309.08 1066.28,311.72 1070.3,314C1074.32,316.28 1076.32,317.78 1082.4,320.2C1088.48,322.62 1098.8,326.48 1106.8,328.5C1114.8,330.52 1122.75,331.87 1130.4,332.3C1138.05,332.73 1145.47,331.98 1152.7,331.1C1159.93,330.22 1166.85,328.27 1173.8,327C1180.75,325.73 1187.82,324.65 1194.4,323.5C1200.98,322.35 1207.23,321.23 1213.3,320.1C1219.37,318.97 1225.15,317.65 1230.8,316.7C1236.45,315.75 1241.98,314.72 1247.2,314.4C1252.42,314.08 1257.72,314.23 1262.1,314.8C1266.48,315.37 1271.6,317.3 1273.5,317.8" stroke="#77ac30" fill="none" stroke-width="2.0" stroke-linejoin="round"/><path d="M761.3,375.1 L766,381.4 L761.3,387.7 L756.6,381.4 Z" fill="#77ac30"/><path d="M767.9,368.9 L772.6,375.2 L767.9,381.5 L763.2,375.2 Z" fill="#77ac30"/><path d="M779.6,371.2 L784.3,377.5 L779.6,383.8 L774.9,377.5 Z" fill="#77ac30"/><path d="M792.3,371.7 L797,378 L792.3,384.3 L787.6,378 Z" fill="#77ac30"/><path d="M805.2,371.7 L809.9,378 L805.2,384.3 L800.5,378 Z" fill="#77ac30"/><path d="M820,371.7 L824.7,378 L820,384.3 L815.3,378 Z" fill="#77ac30"/><path d="M835.6,371.5 L840.3,377.8 L835.6,384.1 L830.9,377.8 Z" fill="#77ac30"/><path d="M853.4,371.3 L858.1,377.6 L853.4,383.9 L848.7,377.6 Z" fill="#77ac30"/><path d="M872.4,365.9 L877.1,372.2 L872.4,378.5 L867.7,372.2 Z" fill="#77ac30"/><path d="M892.5,185.2 L897.2,191.5 L892.5,197.8 L887.8,191.5 Z" fill="#77ac30"/><path d="M913.8,112.6 L918.5,118.9 L913.8,125.2 L909.1,118.9 Z" fill="#77ac30"/><path d="M936.5,85.8 L941.2,92.1 L936.5,98.4 L931.8,92.1 Z" fill="#77ac30"/><path d="M960,163.5 L964.7,169.8 L960,176.1 L955.3,169.8 Z" fill="#77ac30"/><path d="M984.3,252.5 L989,258.8 L984.3,265.1 L979.6,258.8 Z" fill="#77ac30"/><path d="M1008.6,269.7 L1013.3,276 L1008.6,282.3 L1003.9,276 Z" fill="#77ac30"/><path d="M1033.5,283.1 L1038.2,289.4 L1033.5,295.7 L1028.8,289.4 Z" fill="#77ac30"/><path d="M1058.3,300.2 L1063,306.5 L1058.3,312.8 L1053.6,306.5 Z" fill="#77ac30"/><path d="M1082.4,313.9 L1087.1,320.2 L1082.4,326.5 L1077.7,320.2 Z" fill="#77ac30"/><path d="M1106.8,322.2 L1111.5,328.5 L1106.8,334.8 L1102.1,328.5 Z" fill="#77ac30"/><path d="M1130.4,326 L1135.1,332.3 L1130.4,338.6 L1125.7,332.3 Z" fill="#77ac30"/><path d="M1152.7,324.8 L1157.4,331.1 L1152.7,337.4 L1148,331.1 Z" fill="#77ac30"/><path d="M1173.8,320.7 L1178.5,327 L1173.8,333.3 L1169.1,327 Z" fill="#77ac30"/><path d="M1194.4,317.2 L1199.1,323.5 L1194.4,329.8 L1189.7,323.5 Z" fill="#77ac30"/><path d="M1213.3,313.8 L1218,320.1 L1213.3,326.4 L1208.6,320.1 Z" fill="#77ac30"/><path d="M1230.8,310.4 L1235.5,316.7 L1230.8,323 L1226.1,316.7 Z" fill="#77ac30"/><path d="M1247.2,308.1 L1251.9,314.4 L1247.2,320.7 L1242.5,314.4 Z" fill="#77ac30"/><path d="M1262.1,308.5 L1266.8,314.8 L1262.1,321.1 L1257.4,314.8 Z" fill="#77ac30"/>
<g><rect x="341.4" y="48.8" width="263.6" height="125.9" fill="#fff" stroke="#262626" stroke-width="1.2"/><line x1="345.7" y1="62.6" x2="387.4" y2="62.6" stroke="#000000" stroke-width="2"/><text transform="translate(391.03,67.9) scale(1.0957,1)" font-size="20.4" font-style="italic" fill="#000">α</text><path d="M410.3,60.5H424M410.3,64.5H424" stroke="#1a1a1a" stroke-width="1"/><text transform="translate(429.76,67.9) scale(1.0158,1)" font-size="20.4" fill="#000">3.25</text><circle cx="468.95" cy="57.3" r="2.45" fill="none" stroke="#000" stroke-width="0.9"/><text transform="translate(480.23,67.9) scale(1.0588,1)" font-size="20.4" fill="#000">(onset)</text><line x1="345.7" y1="86.9" x2="387.4" y2="86.9" stroke="#0000ff" stroke-width="2"/><circle cx="366.6" cy="86.9" r="3.6" fill="#0000ff"/><text transform="translate(391.03,92.1) scale(1.0957,1)" font-size="20.4" font-style="italic" fill="#000">α</text><path d="M410.3,84.7H424M410.3,88.7H424" stroke="#1a1a1a" stroke-width="1"/><text transform="translate(429.76,92.1) scale(1.0158,1)" font-size="20.4" fill="#000">3.50</text><circle cx="468.95" cy="81.5" r="2.45" fill="none" stroke="#000" stroke-width="0.9"/><text transform="translate(480.23,92.1) scale(1.0598,1)" font-size="20.4" fill="#000">(design point)</text><line x1="345.7" y1="111.4" x2="387.4" y2="111.4" stroke="#ff0000" stroke-width="2"/><rect x="362.4" y="107.2" width="8.4" height="8.4" fill="#ff0000"/><text transform="translate(391.03,116.7) scale(1.0957,1)" font-size="20.4" font-style="italic" fill="#000">α</text><path d="M410.3,109.3H424M410.3,113.3H424" stroke="#1a1a1a" stroke-width="1"/><text transform="translate(430.5,116.7) scale(0.9886,1)" font-size="20.4" fill="#000">4.0</text><circle cx="458.65" cy="106.1" r="2.45" fill="none" stroke="#000" stroke-width="0.9"/><line x1="345.7" y1="136.1" x2="387.4" y2="136.1" stroke="#edb120" stroke-width="2"/><path d="M366.6,130.6 L373,141.6 L360.2,141.6 Z" fill="#edb120"/><text transform="translate(391.03,141.1) scale(1.0957,1)" font-size="20.4" font-style="italic" fill="#000">α</text><path d="M410.3,133.7H424M410.3,137.7H424" stroke="#1a1a1a" stroke-width="1"/><text transform="translate(430.5,141.1) scale(0.9886,1)" font-size="20.4" fill="#000">4.5</text><circle cx="458.65" cy="130.5" r="2.45" fill="none" stroke="#000" stroke-width="0.9"/><line x1="345.7" y1="160.6" x2="387.4" y2="160.6" stroke="#77ac30" stroke-width="2"/><path d="M366.6,154.3 L371.3,160.6 L366.6,166.9 L361.9,160.6 Z" fill="#77ac30"/><text transform="translate(391.03,165.2) scale(1.0957,1)" font-size="20.4" font-style="italic" fill="#000">α</text><path d="M410.3,157.8H424M410.3,161.8H424" stroke="#1a1a1a" stroke-width="1"/><text transform="translate(429.65,165.2) scale(1.0230,1)" font-size="20.4" fill="#000">5.0</text><circle cx="458.65" cy="154.6" r="2.45" fill="none" stroke="#000" stroke-width="0.9"/><text transform="translate(470.46,165.2) scale(1.0219,1)" font-size="20.4" fill="#000">(offset)</text></g>
<g><text transform="translate(78.67,420.7) scale(0.9710,1)" font-size="24.1" fill="#262626">0.0</text><text transform="translate(181.25,420.7) scale(0.9710,1)" font-size="24.1" fill="#262626">0.2</text><text transform="translate(283.18,420.7) scale(0.9710,1)" font-size="24.1" fill="#262626">0.4</text><text transform="translate(385.76,420.7) scale(0.9710,1)" font-size="24.1" fill="#262626">0.6</text><text transform="translate(488.28,420.7) scale(0.9710,1)" font-size="24.1" fill="#262626">0.8</text><text transform="translate(590.09,420.7) scale(0.9710,1)" font-size="24.1" fill="#262626">1.0</text><text transform="translate(746.67,420.7) scale(0.9710,1)" font-size="24.1" fill="#262626">0.0</text><text transform="translate(849.25,420.7) scale(0.9710,1)" font-size="24.1" fill="#262626">0.2</text><text transform="translate(951.18,420.7) scale(0.9710,1)" font-size="24.1" fill="#262626">0.4</text><text transform="translate(1053.76,420.7) scale(0.9710,1)" font-size="24.1" fill="#262626">0.6</text><text transform="translate(1156.27,420.7) scale(0.9710,1)" font-size="24.1" fill="#262626">0.8</text><text transform="translate(1258.09,420.7) scale(0.9710,1)" font-size="24.1" fill="#262626">1.0</text><text transform="translate(74.14,399.8) scale(0.9710,1)" font-size="24.1" fill="#262626">0</text><text transform="translate(48.75,291.8) scale(0.9710,1)" font-size="24.1" fill="#262626">-0.5</text><text transform="translate(66.77,183.8) scale(0.9710,1)" font-size="24.1" fill="#262626">-1</text><text transform="translate(48.75,75.8) scale(0.9710,1)" font-size="24.1" fill="#262626">-1.5</text><text transform="translate(742.04,400) scale(0.9710,1)" font-size="24.1" fill="#262626">0</text><text transform="translate(712.79,350.69) scale(0.9710,1)" font-size="24.1" fill="#262626">0.05</text><text transform="translate(724.95,301.37) scale(0.9710,1)" font-size="24.1" fill="#262626">0.1</text><text transform="translate(712.79,252.06) scale(0.9710,1)" font-size="24.1" fill="#262626">0.15</text><text transform="translate(724.84,202.74) scale(0.9710,1)" font-size="24.1" fill="#262626">0.2</text><text transform="translate(712.79,153.43) scale(0.9710,1)" font-size="24.1" fill="#262626">0.25</text><text transform="translate(724.49,104.11) scale(0.9710,1)" font-size="24.1" fill="#262626">0.3</text><text transform="translate(712.79,54.8) scale(0.9710,1)" font-size="24.1" fill="#262626">0.35</text></g>
<g><text transform="translate(249.3,450.6) scale(1.0986,1)" font-size="24.4" fill="#262626">Normalised Chord</text><text transform="translate(917.3,450.6) scale(1.0986,1)" font-size="24.4" fill="#262626">Normalised Chord</text><g transform="rotate(-90)"><text transform="translate(-268.78,36.3) scale(1.0604,1)" font-size="24.4" fill="#262626">Mean</text><text transform="translate(-200.93,36.3) scale(1.1370,1)" font-size="24.4" font-style="italic" fill="#262626">C</text><text transform="translate(-181.88,39.7) scale(0.8948,1)" font-size="17.08" font-style="italic" fill="#262626">p</text></g><g transform="rotate(-90)"><text transform="translate(-268.2,701.2) scale(1.0915,1)" font-size="24.4" fill="#262626">RMS</text><text transform="translate(-204.28,701.2) scale(1.1766,1)" font-size="24.4" font-style="italic" fill="#262626">C</text><text transform="translate(-184.59,704.6) scale(0.8837,1)" font-size="17.08" font-style="italic" fill="#262626">p</text></g></g>
</svg>
<svg class="cap" width="1309" height="524" viewBox="0 0 1309 524"><text transform="translate(320.18,495.6) scale(0.8456,1)" font-size="32" fill="#000">(</text><text transform="translate(330.29,495.9) scale(0.9944,1)" font-size="30.5" font-weight="bold" fill="#000">a</text><text transform="translate(345.4,495.6) scale(0.8293,1)" font-size="32" fill="#000">)</text><text transform="translate(987.28,495.6) scale(0.8456,1)" font-size="32" fill="#000">(</text><text transform="translate(997,495.9) scale(1.1016,1)" font-size="30.5" font-weight="bold" fill="#000">b</text><text transform="translate(1015.56,495.6) scale(0.8774,1)" font-size="32" fill="#000">)</text></svg>
</body></html>
